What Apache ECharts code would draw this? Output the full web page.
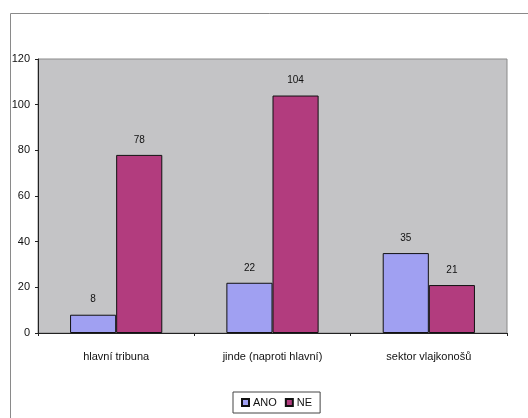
<!DOCTYPE html>
<html><head><meta charset="utf-8">
<script src="https://cdn.jsdelivr.net/npm/echarts@6/dist/echarts.min.js"></script>
<style>html,body{margin:0;padding:0;background:#fff}#c{width:528px;height:418px}</style>
</head><body><div id="c"></div>
<script>
var categories = ['hlavní tribuna', 'jinde (naproti hlavní)', 'sektor vlajkonošů'];
var anoValues = [8, 22, 35];
var neValues = [78, 104, 21];
var seriesNames = ['ANO', 'NE'];
var yMin = 0, yMax = 120, yStep = 20;

var chart = echarts.init(document.getElementById('c'), null, {renderer: 'canvas'});
var font = 'Liberation Sans, Arial, sans-serif';
chart.setOption({
  animation: false,
  backgroundColor: '#ffffff',
  graphic: [{
    type: 'rect', left: 8, top: 11, shape: {width: 519, height: 420},
    style: {fill: 'none', stroke: '#8a8a8a', lineWidth: 1}, silent: true
  }],
  grid: {left: 38, right: 21, top: 59, bottom: 85, show: true,
    backgroundColor: '#c4c4c6', borderColor: '#8a8a8a', borderWidth: 1},
  legend: {
    data: seriesNames, top: 392, left: 233, itemWidth: 7, itemHeight: 7, itemGap: 8,
    icon: 'rect', borderColor: '#444', borderWidth: 1, padding: [5, 8, 5, 8],
    textStyle: {fontFamily: font, fontSize: 11, color: '#111', padding: [0, 0, 0, -1]}
  },
  xAxis: {
    type: 'category', data: categories,
    axisLine: {lineStyle: {color: '#222', width: 1}},
    axisTick: {show: true, length: 3, lineStyle: {color: '#222'}},
    axisLabel: {fontFamily: font, fontSize: 11, color: '#111', margin: 18}
  },
  yAxis: {
    type: 'value', min: yMin, max: yMax, interval: yStep,
    axisLine: {show: true, lineStyle: {color: '#222', width: 1}},
    axisTick: {show: true, length: 3, lineStyle: {color: '#222'}},
    splitLine: {show: false},
    axisLabel: {fontFamily: font, fontSize: 11, color: '#111', margin: 8}
  },
  series: [
    {name: seriesNames[0], type: 'bar', data: anoValues, barGap: '0%', barCategoryGap: '41%',
      itemStyle: {color: '#a0a0f2', borderColor: '#111', borderWidth: 1},
      label: {show: true, position: 'top', fontFamily: font, fontSize: 10, color: '#111', distance: 10}},
    {name: seriesNames[1], type: 'bar', data: neValues,
      itemStyle: {color: '#b23c7e', borderColor: '#111', borderWidth: 1},
      label: {show: true, position: 'top', fontFamily: font, fontSize: 10, color: '#111', distance: 10}}
  ]
});
</script></body></html>
